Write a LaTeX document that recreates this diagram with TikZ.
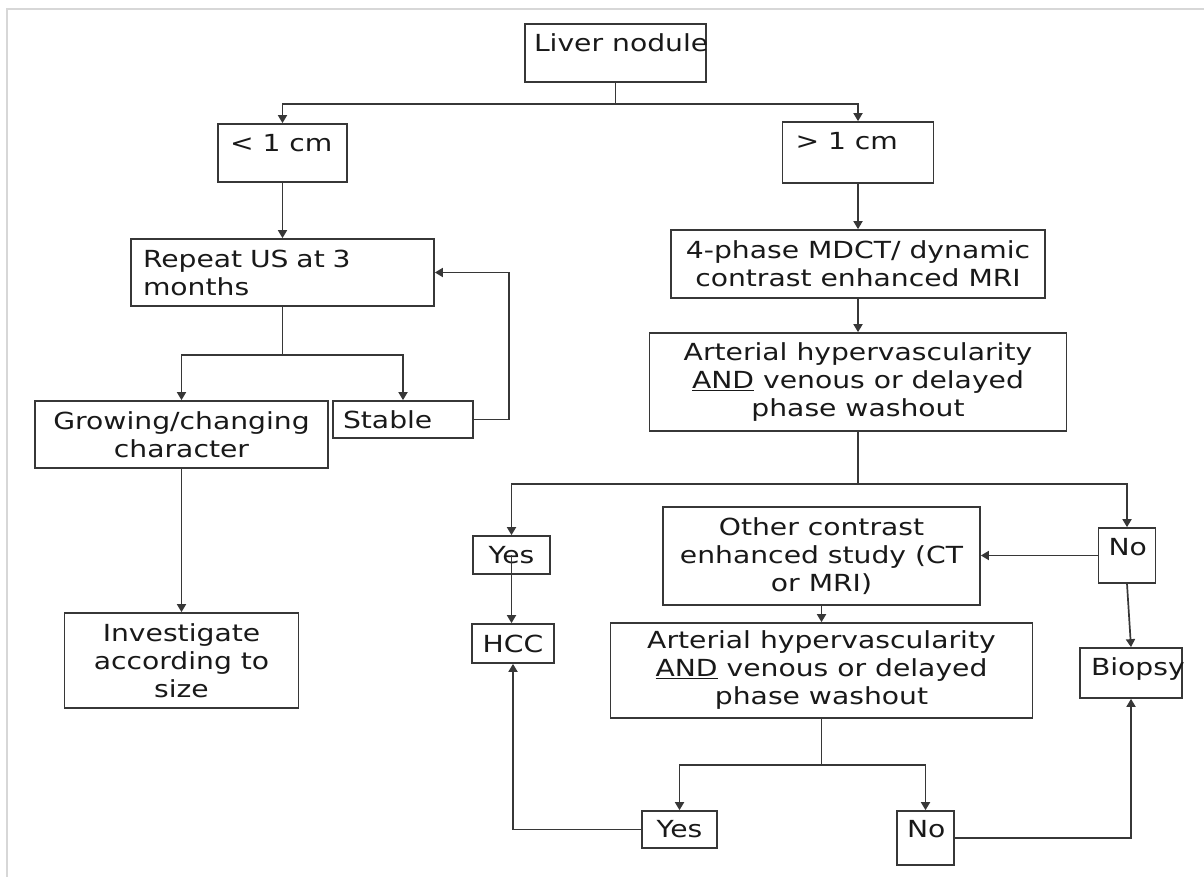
\documentclass[tikz,border=0pt]{standalone}
\usepackage{fontspec}
\setmainfont{DejaVu Sans}[FakeStretch=1.2]
\usetikzlibrary{arrows.meta}
\definecolor{linec}{RGB}{55,55,55}
\definecolor{txtc}{RGB}{25,25,25}
\definecolor{framec}{RGB}{215,215,215}
\tikzset{
  box/.style={draw=linec, line width=1.7pt, inner sep=0pt, align=center, text=txtc,
    font=\fontsize{23.5pt}{28pt}\selectfont},
  conn/.style={draw=linec, line width=1.7pt},
  arr/.style={conn, -{Triangle[width=9pt,length=8pt]}},
}
\begin{document}
\begin{tikzpicture}[x=1pt,y=-1pt]
\useasboundingbox (0,0) rectangle (1204,877);
\fill[white] (0,0) rectangle (1204,877);
\draw[framec, line width=2pt] (7,877) -- (7,9) -- (1204,9);

% left branch
\node[box, minimum width=181pt, minimum height=58pt, inner xsep=9pt, text height=28pt, text depth=30pt]
  (liver) at (615.5,53) {\makebox[163pt][l]{Liver nodule}};
\node[box, minimum width=129pt, minimum height=58pt, inner xsep=12pt, text height=28pt, text depth=30pt]
  (lt) at (282.5,153) {\makebox[105pt][l]{< 1 cm}};
\node[box, minimum width=151pt, minimum height=61pt, inner xsep=13pt, text height=28pt, text depth=33pt]
  (gt) at (858,152.5) {\makebox[125pt][l]{> 1 cm}};
\node[box, minimum width=303pt, minimum height=67pt, inner xsep=12pt, text width=279pt, align=left]
  (rep) at (282.5,272.5) {Repeat US at 3\\months};
\node[box, minimum width=293pt, minimum height=67pt]
  (gro) at (181.5,434.5) {Growing/changing\\character};
\node[box, minimum width=140pt, minimum height=37pt, inner xsep=10pt]
  (stab) at (403,419.5) {\makebox[120pt][l]{Stable}};
\node[box, minimum width=234pt, minimum height=95pt]
  (inv) at (181.5,660.5) {Investigate\\according to\\size};

% right branch
\node[box, minimum width=374pt, minimum height=68pt]
  (mdct) at (858,264) {4-phase MDCT/ dynamic\\contrast enhanced MRI};
\node[box, minimum width=417pt, minimum height=98pt]
  (art1) at (858,382) {Arterial hypervascularity\\\underline{AND} venous or delayed\\phase washout};
\node[box, minimum width=77pt, minimum height=38pt]
  (yes1) at (511.5,555) {Yes};
\node[box, minimum width=82pt, minimum height=39pt]
  (hcc) at (513,643.5) {HCC};
\node[box, minimum width=57pt, minimum height=55pt, inner xsep=10pt, text height=27pt, text depth=28pt]
  (no1) at (1127,555.5) {\makebox[37pt][l]{No}};
\node[box, minimum width=317pt, minimum height=98pt]
  (other) at (821.5,556) {Other contrast\\enhanced study (CT\\or MRI)};
\node[box, minimum width=422pt, minimum height=95pt]
  (art2) at (821.5,670.5) {Arterial hypervascularity\\\underline{AND} venous or delayed\\phase washout};
\node[box, minimum width=102pt, minimum height=50pt, inner xsep=11pt, text height=27pt, text depth=23pt]
  (bio) at (1131,673) {\makebox[80pt][l]{Biopsy}};
\node[box, minimum width=75pt, minimum height=37pt]
  (yes2) at (679.5,829.5) {Yes};
\node[box, minimum width=57pt, minimum height=54pt, inner xsep=10pt, text height=26pt, text depth=28pt]
  (no2) at (925.5,838) {\makebox[37pt][l]{No}};

% connectors
\draw[arr] (liver.south) -- ++(0,21) -| (lt.north);
\draw[arr] (liver.south) -- ++(0,21) -| (gt.north);
\draw[arr] (lt.south) -- (lt.south |- rep.north);
\draw[arr] (rep.south) -- ++(0,48) -| (gro.north);
\draw[arr] (rep.south) -- ++(0,48) -| (stab.north);
\draw[arr] (stab.east) -- ++(35,0) |- (rep.east);
\draw[arr] (gro.south) -- (gro.south |- inv.north);

\draw[arr] (gt.south) -- (gt.south |- mdct.north);
\draw[arr] (mdct.south) -- (mdct.south |- art1.north);
\draw[arr] (art1.south) -- ++(0,52) -| (yes1.north);
\draw[arr] (art1.south) -- ++(0,52) -| (no1.north);
\draw[arr] (yes1.center) -- (yes1.center |- hcc.north);
\draw[arr] (no1.west) -- (no1.west -| other.east);
\draw[arr] (no1.south) -- (bio.north);
\draw[arr] (other.south) -- (other.south |- art2.north);
\draw[arr] (art2.south) -- ++(0,46) -| (yes2.north);
\draw[arr] (art2.south) -- ++(0,46) -| (no2.north);
\draw[arr] (yes2.west) -| (hcc.south);
\draw[arr] (no2.east) -| (bio.south);
\end{tikzpicture}
\end{document}
